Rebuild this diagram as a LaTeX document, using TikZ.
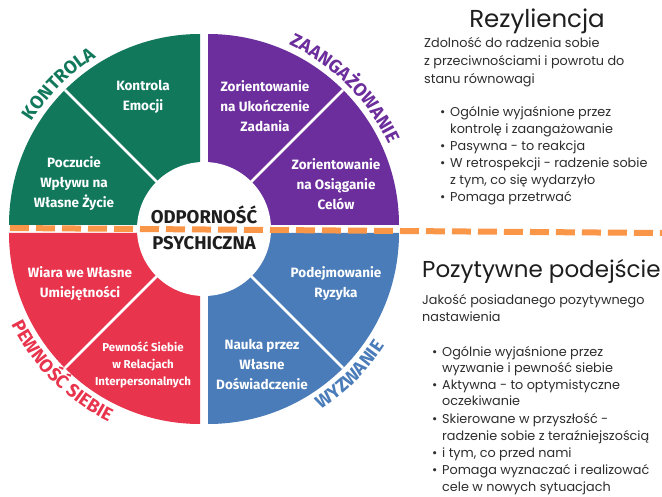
\documentclass[tikz,border=0pt]{standalone}
\usepackage{fontspec}
\setmainfont{Poppins}
\newfontfamily\fira{Fira Sans}
\usetikzlibrary{decorations.text}
\definecolor{kgreen}{RGB}{17,120,92}
\definecolor{kpurple}{RGB}{108,46,156}
\definecolor{kred}{RGB}{232,52,77}
\definecolor{kblue}{RGB}{74,124,185}
\definecolor{korange}{RGB}{249,150,72}
\definecolor{ktext}{RGB}{45,45,45}
\definecolor{kdark}{RGB}{30,30,30}
\begin{document}
\begin{tikzpicture}[x=1pt,y=1pt,
  wlab/.style={text=white, font=\fira\bfseries\fontsize{13.5}{20}\selectfont, align=center, inner sep=0pt},
  wlabs/.style={text=white, font=\fira\bfseries\fontsize{11.5}{17}\selectfont, align=center, inner sep=0pt},
  ctext/.style={text=kdark, font=\fira\bfseries\fontsize{18.5}{20}\selectfont, inner sep=0pt},
  ttl/.style={text=kdark, font=\fontsize{23}{26}\selectfont, inner sep=0pt},
  body/.style={text=ktext, font=\fontsize{12.8}{15}\selectfont, inner sep=0pt, anchor=base west},
  divider/.style={white, line width=2.6pt},
  dashline/.style={korange, line width=6pt, dash pattern=on 19pt off 7pt}
]
\useasboundingbox (0,0) rectangle (662,-497);
\fill[white] (0,0) rectangle (662,-497);
\def\R{191}
\coordinate (c) at (204,-229);
\coordinate (cg) at (200,-225);
\coordinate (cp) at (208,-225);
\coordinate (cr) at (200,-233);
\coordinate (cb) at (208,-233);
% quadrants
\fill[kgreen] (cg) -- ++(180:\R) arc[start angle=180, end angle=90, radius=\R] -- cycle;
\fill[kpurple] (cp) -- ++(90:\R) arc[start angle=90, end angle=0, radius=\R] -- cycle;
\fill[kred] (cr) -- ++(270:\R) arc[start angle=270, end angle=180, radius=\R] -- cycle;
\fill[kblue] (cb) -- ++(0:\R) arc[start angle=0, end angle=-90, radius=\R] -- cycle;
% dividers
\draw[divider] (cg) -- ++(135:\R);
\draw[divider] (cp) -- ++(45:\R);
\draw[divider] (cr) -- ++(225:\R);
\draw[divider] (cb) -- ++(-45:\R);
% inner circle
\fill[white] (c) circle (67);
% dashed line
\coordinate (dl) at (10,-228);
\coordinate (dr) at (662,-233);
\draw[dashline] (dl) -- (dr);
% centre text
\node[ctext] (odp) at (204,-215) {ODPORNOŚĆ};
\node[ctext] (psy) at (204,-243) {PSYCHICZNA};
% quadrant texts
\node[wlab] (q1) at (143,-97) {Kontrola\\Emocji};
\node[wlab] (q2) at (74,-184) {Poczucie\\Wpływu na\\Własne Życie};
\node[wlab] (q3) at (265,-106) {Zorientowanie\\na Ukończenie\\Zadania};
\node[wlab] (q4) at (336,-184) {Zorientowanie\\na Osiąganie\\Celów};
\node[wlab] (q5) at (80,-284) {Wiara we Własne\\Umiejętności};
\node[wlabs] (q6) at (143,-365) {Pewność Siebie\\w Relacjach\\Interpersonalnych};
\node[wlab] (q7) at (336,-284) {Podejmowanie\\Ryzyka};
\node[wlab] (q8) at (262,-364) {Nauka przez\\Własne\\Doświadczenie};
% curved labels
\path[decorate, decoration={text along path, text align=center, text color=kgreen,
  text={|\fira\bfseries\fontsize{18.5}{20}\selectfont|KONTROLA}}]
  ([shift={(175:203)}]c) arc[start angle=175, end angle=95, radius=203];
\path[decorate, decoration={text along path, text align=center, text color=kpurple,
  text={|\fira\bfseries\fontsize{18.5}{20}\selectfont|ZAANGAŻOWANIE}}]
  ([shift={(90:203)}]c) arc[start angle=90, end angle=0, radius=203];
\path[decorate, decoration={text along path, text align=center, text color=kred,
  text={|\fira\bfseries\fontsize{18.5}{20}\selectfont|PEWNOŚĆ SIEBIE}}]
  ([shift={(180:215)}]c) arc[start angle=180, end angle=270, radius=215];
\path[decorate, decoration={text along path, text align=center, text color=kblue,
  text={|\fira\bfseries\fontsize{18.5}{20}\selectfont|WYZWANIE}}]
  ([shift={(270:215)}]c) arc[start angle=270, end angle=360, radius=215];
% right side: top
\node[ttl, anchor=base, font=\fontsize{24.5}{26}\selectfont] (t1) at (537,-28) {Rezyliencja};
\node[body] (d1) at (424,-48) {Zdolność do radzenia sobie};
\node[body] (d2) at (424,-66) {z przeciwnościami i powrotu do};
\node[body] (d3) at (424,-83.5) {stanu równowagi};
\node[body] (b1) at (440,-117) {•};
\node[body] (l1) at (450,-117) {Ogólnie wyjaśnione przez};
\node[body] (l2) at (450,-134) {kontrolę i zaangażowanie};
\node[body] (b2) at (440,-151) {•};
\node[body] (l3) at (450,-151) {Pasywna - to reakcja};
\node[body] (b3) at (440,-168) {•};
\node[body] (l4) at (450,-168) {W retrospekcji - radzenie sobie};
\node[body] (l5) at (450,-185) {z tym, co się wydarzyło};
\node[body] (b4) at (440,-202) {•};
\node[body] (l6) at (450,-202) {Pomaga przetrwać};
% right side: bottom
\node[ttl, anchor=base west] (t2) at (422,-278) {Pozytywne podejście};
\node[body] (e1) at (422,-305) {Jakość posiadanego pozytywnego};
\node[body] (e2) at (422,-322) {nastawienia};
\node[body] (p1) at (432,-356) {•};
\node[body] (m1) at (442,-356) {Ogólnie wyjaśnione przez};
\node[body] (m2) at (442,-372.5) {wyzwanie i pewność siebie};
\node[body] (p2) at (432,-389) {•};
\node[body] (m3) at (442,-389) {Aktywna - to optymistyczne};
\node[body] (m4) at (442,-406) {oczekiwanie};
\node[body] (p3) at (432,-423) {•};
\node[body] (m5) at (442,-423) {Skierowane w przyszłość -};
\node[body] (m6) at (442,-440) {radzenie sobie z teraźniejszością};
\node[body] (p4) at (432,-457) {•};
\node[body] (m7) at (442,-457) {i tym, co przed nami};
\node[body] (p5) at (432,-474) {•};
\node[body] (m8) at (442,-474) {Pomaga wyznaczać i realizować};
\node[body] (m9) at (442,-491) {cele w nowych sytuacjach};
\end{tikzpicture}
\end{document}
